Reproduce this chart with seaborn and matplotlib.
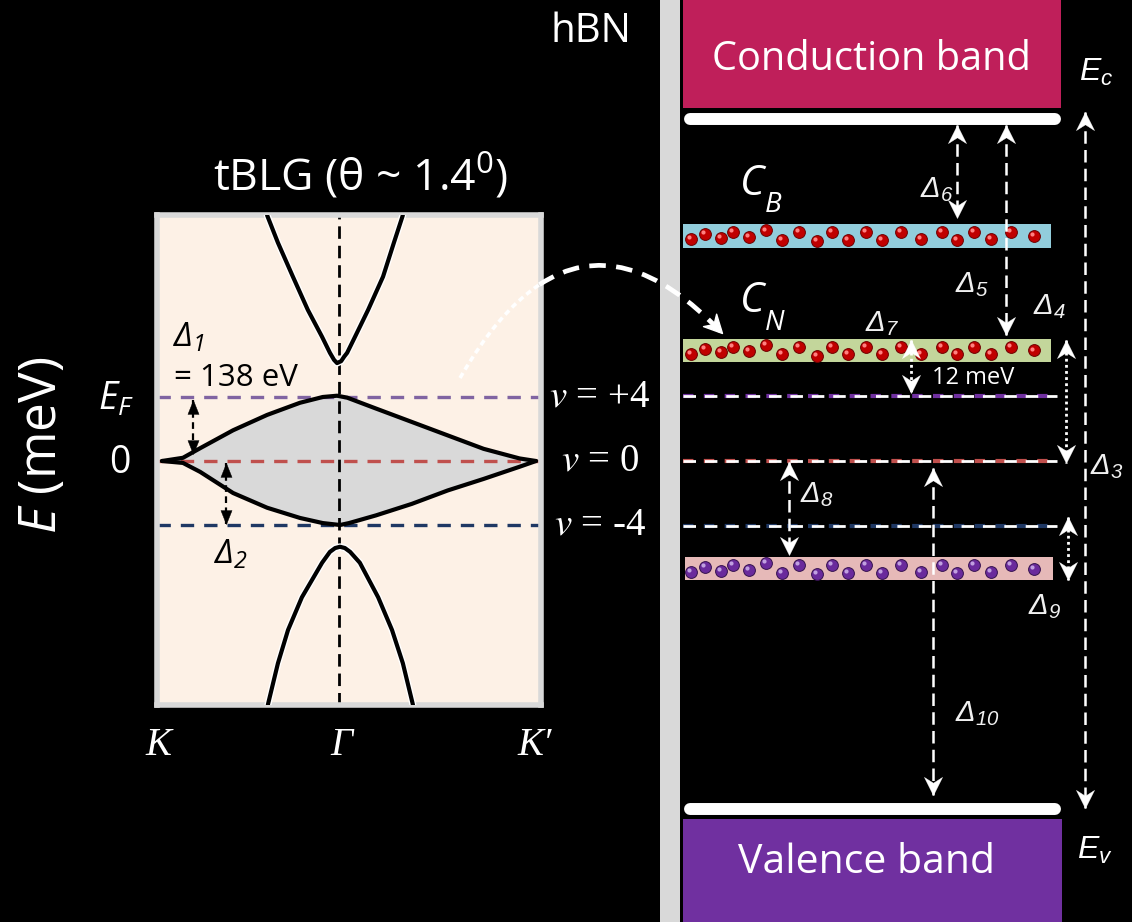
import numpy as np
import matplotlib
matplotlib.use("Agg")
import matplotlib.pyplot as plt
import seaborn as sns
from matplotlib.path import Path
from matplotlib.patches import PathPatch
from matplotlib.markers import MarkerStyle
from matplotlib.transforms import Affine2D

# tBLG bands: k runs K=0 -> K'=1, E in units of the nu=4 spacing
gamma_k = 0.472
flat_up_k = [0.0, 0.056, 0.102, 0.190, 0.281, 0.369, 0.430, 0.468, 0.495, 0.572, 0.668, 0.764, 0.860, 0.956, 1.0]
flat_up_E = [0.0, 0.05, 0.20, 0.48, 0.72, 0.91, 1.00, 1.02, 0.99, 0.82, 0.61, 0.40, 0.19, 0.04, 0.0]
flat_lo_k = [0.0, 0.056, 0.102, 0.190, 0.281, 0.369, 0.430, 0.476, 0.500, 0.572, 0.668, 0.764, 0.860, 0.956, 1.0]
flat_lo_E = [0.0, -0.03, -0.17, -0.50, -0.73, -0.89, -0.97, -1.00, -0.97, -0.85, -0.67, -0.46, -0.28, -0.09, 0.0]
cb_k = [0.281, 0.310, 0.350, 0.390, 0.428, 0.449, 0.460, 0.468, 0.479, 0.487, 0.495, 0.516, 0.551, 0.591, 0.620, 0.644]
cb_E = [3.84, 3.41, 2.88, 2.36, 1.94, 1.69, 1.58, 1.53, 1.56, 1.63, 1.69, 1.94, 2.36, 2.88, 3.41, 3.84]
vb_k = [0.283, 0.310, 0.337, 0.374, 0.428, 0.449, 0.463, 0.476, 0.489, 0.503, 0.529, 0.578, 0.615, 0.644, 0.671]
vb_E = [-3.81, -3.16, -2.64, -2.13, -1.59, -1.42, -1.36, -1.34, -1.36, -1.42, -1.59, -2.13, -2.64, -3.16, -3.81]

fill_E = [1.0, 0.0, -1.0]
fill_labels = ['$v$ = +4', '$v$ = 0', '$v$ = -4']
left_line_colors = ['#8064a2', '#c0504d', '#1f3864']
right_line_colors = ['#7030a0', '#c0504d', '#1f3864']

# hBN side, same energy units
band_lo = [5.43, 3.28, 1.52, -1.83, -7.10]
band_hi = [7.10, 3.65, 1.88, -1.48, -5.51]
band_colors = ['#bf1f5a', '#92cddc', '#c3d69b', '#e6b9b8', '#7030a0']
Ec_E, Ev_E = 5.26, -5.35

dot_x = [691, 705, 721, 733, 749, 766, 782, 799, 817, 832, 848, 866, 882, 901, 921, 942, 957, 974, 991, 1011, 1034]
dot_dy = [-0.05, 0.03, -0.03, 0.06, -0.015, 0.08, -0.06, 0.05, -0.08, 0.05, -0.06, 0.05,
          -0.06, 0.05, -0.05, 0.06, -0.06, 0.05, -0.05, 0.05, 0.0]

gap_names = ['6', '5', '3', '4', '7', '8', '9', '10']
gap_top = [5.17, 5.17, 5.37, 1.86, 1.86, -0.02, -0.86, -0.10]
gap_bot = [3.74, 1.94, -5.34, -0.03, 1.05, -1.45, -1.83, -5.14]

sns.set_theme(style='white')
plt.rcParams['font.family'] = ['Open Sans', 'DejaVu Sans']
plt.rcParams['mathtext.fontset'] = 'custom'
plt.rcParams['mathtext.rm'] = 'Open Sans'
plt.rcParams['mathtext.it'] = 'Open Sans:italic'

W, H = 1132, 922
fig = plt.figure(figsize=(W / 100, H / 100), dpi=100, facecolor='black')


def frac(x0, y0, x1, y1):
    return [x0 / W, 1 - y1 / H, (x1 - x0) / W, (y1 - y0) / H]


axb = fig.add_axes(frac(157, 215, 541, 705))
axr = fig.add_axes(frac(660, 0, 1132, 922))
ax0 = fig.add_axes([0, 0, 1, 1])

UP = Path([(0, 0), (-0.5, -1), (0, -0.68), (0.5, -1), (0, 0)], [1, 2, 2, 2, 79])
TRI = Path([(0, 0), (-0.4, -1), (0.4, -1), (0, 0)], [1, 2, 2, 79])


def head(shape, deg):
    return MarkerStyle(shape, transform=Affine2D().rotate_deg(deg))


def varrow(ax, x, top, bot, color, lw, dashes, shape, ms):
    ax.plot([x, x], [top, bot], color=color, lw=lw, dashes=dashes, zorder=5)
    for y, d in ((top, 0), (bot, 180)):
        ax.plot([x], [y], marker=head(shape, d), ms=ms, color=color, mec=color,
                mew=0.3, ls='none', zorder=6)


# ---------------- left: band structure ----------------
axb.set_facecolor('#fdf1e6')
axb.set_xlim(-0.0134, 1.0134)
axb.set_ylim(-3.8125, 3.84375)
axb.set_xticks([])
axb.set_yticks([])
for s in axb.spines.values():
    s.set_color('#d9d9d9')
    s.set_linewidth(4)

axb.fill(flat_up_k + flat_lo_k[::-1], flat_up_E + flat_lo_E[::-1], color='#d9d9d9', zorder=1)
for E, c in zip(fill_E, left_line_colors):
    axb.axhline(E, color=c, lw=2.4, dashes=(4, 3), zorder=2)
axb.axvline(gamma_k, color='black', lw=2, dashes=(4.5, 2.5), zorder=2)
for k, E in ((cb_k, cb_E), (vb_k, vb_E)):
    sns.lineplot(x=k, y=E, ax=axb, color='white', lw=5, sort=False, estimator=None, zorder=3)
for k, E in ((flat_up_k, flat_up_E), (flat_lo_k, flat_lo_E), (cb_k, cb_E), (vb_k, vb_E)):
    sns.lineplot(x=k, y=E, ax=axb, color='black', lw=3, sort=False, estimator=None, zorder=3)
axb.set_xlabel('')
axb.set_ylabel('')

varrow(axb, 0.083, 0.96, 0.11, 'black', 1.6, (3, 2), TRI, 20)
varrow(axb, 0.172, -0.03, -0.99, 'black', 1.6, (3, 2), TRI, 20)

# ---------------- right: hBN levels ----------------
axr.set_facecolor('none')
axr.set_xlim(660, 1132)
axr.set_ylim(-7.09, 7.09)
axr.axis('off')

spans = [(683, 1061), (683, 1051), (683, 1051), (685, 1053), (683, 1062)]
for lo, hi, c, (x0, x1) in zip(band_lo, band_hi, band_colors, spans):
    axr.bar(x0, hi - lo, bottom=lo, width=x1 - x0, align='edge', color=c, lw=0, zorder=1)

for E in (Ec_E, Ev_E):
    axr.plot([690, 1055], [E, E], color='white', lw=8.6, solid_capstyle='round', zorder=2)

dot_sets = [(band_lo[1], band_hi[1], '#c00000', '#6e0000', '#ff8080'),
            (band_lo[2], band_hi[2], '#c00000', '#6e0000', '#ff8080'),
            (band_lo[3], band_hi[3], '#6a2a9c', '#35124f', '#c0a0e0')]
for lo, hi, c, ec, hl in dot_sets:
    yc = (lo + hi) / 2
    ys = [yc + d for d in dot_dy]
    sns.scatterplot(x=dot_x, y=ys, ax=axr, s=72, color=c, edgecolor=ec, linewidth=0.7, zorder=3)
    sns.scatterplot(x=[x - 2 for x in dot_x], y=[y + 0.03 for y in ys], ax=axr,
                    s=9, color=hl, linewidth=0, zorder=4)

for E, c in zip(fill_E, right_line_colors):
    axr.plot([683, 1057], [E, E], color=c, lw=3, dashes=(2.5, 2.5), zorder=2)
    axr.plot([683, 1057], [E, E], color='white', lw=2.0, dashes=(4.5, 3.2), zorder=2)

gap_x = [957, 1006, 1085, 1066, 911, 789, 1068, 933]
gap_dotted = ['4', '7', '9']
for n, x, t, b in zip(gap_names, gap_x, gap_top, gap_bot):
    if n in gap_dotted:
        varrow(axr, x, t, b, 'white', 2.0, (1, 1.2), UP, 26)
    else:
        varrow(axr, x, t, b, 'white', 1.8, (5, 2.5), UP, 26)

# ---------------- overlay: labels and connector ----------------
ax0.set_facecolor('none')
ax0.set_xlim(0, W)
ax0.set_ylim(H, 0)
ax0.axis('off')
ax0.axvspan(660, 680, color='#d9d9d9', lw=0)

ax0.text(591, 32, 'hBN', color='white', fontsize=29, ha='center', va='center')
ax0.text(871, 60, 'Conduction band', color='white', fontsize=28.6, ha='center', va='center')
ax0.text(867, 863, 'Valence band', color='white', fontsize=29.5, ha='center', va='center')
ax0.text(361, 176, r'tBLG (θ ~ 1.4$^{\mathregular{0}}$)', color='white', fontsize=32, ha='center', va='center')
ax0.text(42, 445, r'$E$ (meV)', color='white', fontsize=37, ha='center', va='center', rotation=90)
ax0.text(98, 400, r'E$_{\mathregular{F}}$', color='white', fontsize=27, style='italic', ha='left', va='center')
ax0.text(120, 463, '0', color='white', fontsize=27, ha='center', va='center')
for x, s in ((158, 'K'), (341, 'Γ'), (535, 'K′')):
    ax0.text(x, 745, s, color='white', fontsize=28, family='Liberation Serif', style='italic',
             ha='center', va='center')
for E, s in zip([397, 461, 525], fill_labels):
    ax0.text(600, E, s, color='white', fontsize=28, family='Liberation Serif', math_fontfamily='stix',
             ha='center', va='center')

ax0.text(173, 338, r'Δ$_{\mathregular{1}}$', color='black', fontsize=24, style='italic', ha='left', va='center')
ax0.text(174, 378, '= 138 eV', color='black', fontsize=22.5, ha='left', va='center')
ax0.text(214, 555, r'Δ$_{\mathregular{2}}$', color='black', fontsize=24, style='italic', ha='left', va='center')

gap_lx = [920, 955, 1090, 1033, 865, 800, 1028, 955]
gap_ly = [190, 285, 467, 307, 324, 495, 607, 714]
for n, x, y in zip(gap_names, gap_lx, gap_ly):
    ax0.text(x, y, r'Δ$_{\mathregular{%s}}$' % n, color='#f0f0f0', fontsize=21, family='Liberation Sans',
             style='italic', ha='left', va='center')
ax0.text(932, 378, '12 meV', color='white', fontsize=17, ha='left', va='center')

for x, y, s in ((1079, 72, 'c'), (1077, 850, 'v')):
    ax0.text(x, y, r'E$_{\mathregular{%s}}$' % s, color='white', fontsize=23, family='Liberation Sans',
             style='italic', ha='left', va='center')

for x, yc, s, ys in ((740, 195, 'B', 212), (740, 312, 'N', 330)):
    ax0.text(x, yc, 'C', color='white', fontsize=30, style='italic', ha='left', va='baseline')
    ax0.text(x + 25, ys, s, color='white', fontsize=20, style='italic', ha='left', va='baseline')

# curved connector from the tBLG panel to the C_N level
P0, P1, P2 = np.array([460, 378]), np.array([575, 178]), np.array([722, 333])
t = 0.33
A = P0 + t * (P1 - P0)
B = P1 + t * (P2 - P1)
M = A + t * (B - A)
ax0.add_patch(PathPatch(Path([P0, A, M], [1, 3, 3]), fill=False, ec='white', lw=2.6,
                        ls=(0, (1.6, 1.1)), zorder=6))
ax0.add_patch(PathPatch(Path([M, B, P2], [1, 3, 3]), fill=False, ec='white', lw=3.4,
                        ls=(0, (3.5, 2.2)), zorder=6))
ang = np.degrees(np.arctan2(-(P2[1] - B[1]), P2[0] - B[0]))
ax0.plot([P2[0]], [P2[1]], marker=head(UP, ang - 90), ms=26, color='white', mec='white', ls='none', zorder=7)

fig.savefig('out.png', dpi=100, facecolor='black')
